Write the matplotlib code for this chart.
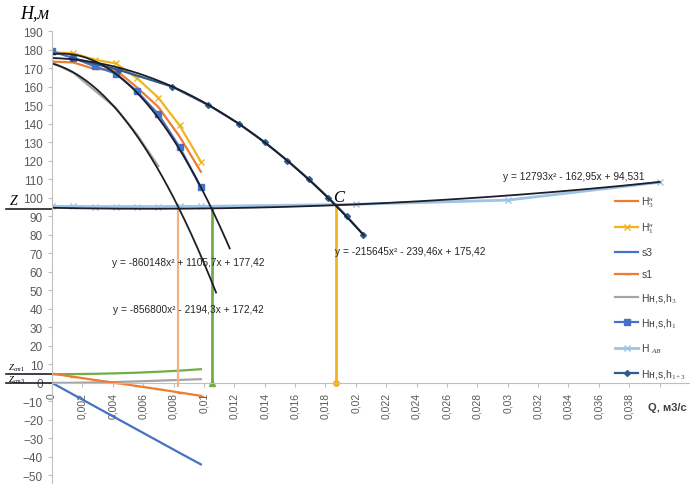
import numpy as np
import matplotlib
matplotlib.use("Agg")
import matplotlib.pyplot as plt

plt.rcParams['font.family'] = ['Liberation Sans', 'DejaVu Sans']
plt.rcParams['mathtext.fontset'] = 'custom'
plt.rcParams['mathtext.rm'] = 'Liberation Serif'
plt.rcParams['mathtext.it'] = 'Liberation Serif:italic'
plt.rcParams['mathtext.bf'] = 'Liberation Serif:bold'

# --- data ---
q_pump = [0, 0.0014, 0.0028, 0.0042, 0.0056, 0.007, 0.0084, 0.0098]
h3_pump = [173.5, 173, 169.5, 169, 159.5, 149, 133, 114]
h1_pump = [178.5, 178, 174.5, 172.5, 164.5, 154, 139, 119.5]
s3 = [0, -6.3, -12.6, -18.9, -25.2, -31.5, -37.8, -44]
s1 = [5, 3.3, 1.6, 0, -1.7, -3.4, -5.2, -7]
h_nsh3 = [173, 167.5, 158, 148.5, 134, 117]
h_nsh1 = [179, 175.4, 171, 167, 157.4, 145, 127.3, 105.5]
loss_1 = [4.7, 4.75, 4.9, 5.15, 5.5, 6.0, 6.6, 7.4]
loss_3 = [0, 0.05, 0.2, 0.45, 0.8, 1.2, 1.6, 2.0]

q_ab = [0, 0.0014, 0.0028, 0.0042, 0.0056, 0.007, 0.0084, 0.0098, 0.02, 0.03, 0.04]
h_ab = [95.3, 95.3, 95.2, 95.2, 95.2, 95.2, 95.3, 95.3, 96.4, 98.7, 108.3]

q_13 = [0.0013, 0.0044, 0.0079, 0.0103, 0.0123, 0.014, 0.0155, 0.0169, 0.0182, 0.0194, 0.0205]
h_13 = [175.5, 169, 160, 150, 140, 130, 120, 110, 100, 90, 80]

# operating points (vertical drop lines)
q_work = [0.0083, 0.0105, 0.0187]
h_work = [94.2, 94.9, 95.9]

# trendlines as shown on the chart
tr_nsh3 = [-856800, -2194.3, 172.42]
tr_nsh1 = [-860148, 1105.7, 177.42]
tr_13 = [-215645, -239.46, 175.42]
tr_ab = [12793, -162.95, 94.531]
tr_ends = [0.0108, 0.0117, 0.0205, 0.04]

z_levels = [94.0, 4.7, 0.0]
z_labels = ['Z', r'$Z_{ст1}$', r'$Z_{ст3}$']

c_orange = '#ED7D31'
c_yellow = '#F2B41E'
c_blue = '#4472C4'
c_gray = '#A5A5A5'
c_light = '#9DC3E6'
c_dark = '#2E5C8F'
c_green = '#70AD47'
c_pink = '#F4B183'
c_trend = '#1E1E28'

fig = plt.figure(figsize=(6.9, 4.85), dpi=100)
ax = fig.add_axes([52 / 690, 0, 1 - 52 / 690, 1 - 32 / 485])
ax.set_xlim(0, 0.042)
ax.set_ylim(-54.6, 190)

# lower plot: losses
ax.plot(q_pump, loss_1, color=c_green, lw=1.6)
ax.plot(q_pump, loss_3, color=c_gray, lw=1.6)
l_s1, = ax.plot(q_pump, s1, color=c_orange, lw=1.6, marker='_', ms=4)
l_s3, = ax.plot(q_pump, s3, color=c_blue, lw=1.6)

# vertical drop lines
ax.plot([q_work[0]] * 2, [-1.5, h_work[0]], color=c_pink, lw=1.6)
ax.plot([q_work[1]] * 2, [0, h_work[1]], color=c_green, lw=2)
ax.plot([q_work[1]], [0], marker='^', color=c_green, ms=5)
ax.plot([q_work[2]] * 2, [0, h_work[2]], color=c_yellow, lw=2)
ax.plot([q_work[2]], [0], marker='o', color=c_yellow, ms=4)

# pump curves
l_h3, = ax.plot(q_pump, h3_pump, color=c_orange, lw=1.6)
l_h1, = ax.plot(q_pump, h1_pump, color=c_yellow, lw=1.6, marker='x', ms=5)
l_n3, = ax.plot(q_pump[:len(h_nsh3)], h_nsh3, color=c_gray, lw=1.6)
l_n1, = ax.plot(q_pump, h_nsh1, color=c_blue, lw=1.6, marker='s', ms=4)
l_ab, = ax.plot(q_ab, h_ab, color=c_light, lw=2, marker='x', ms=5)
l_13, = ax.plot(q_13, h_13, color=c_dark, lw=1.6, marker='D', ms=3)

# trendlines
for coef, x_end in zip([tr_nsh3, tr_nsh1, tr_13, tr_ab], tr_ends):
    xx = np.linspace(0, x_end, 200)
    ax.plot(xx, np.polyval(coef, xx), color=c_trend, lw=1.3)

# Z level marks left of the axis
for lev in z_levels:
    ax.plot([-0.003, 0], [lev, lev], color=c_trend, lw=1.2, clip_on=False)
ax.text(-0.0028, 95.0, z_labels[0], fontsize=10, family='Liberation Serif',
        style='italic', ha='left', va='bottom')
ax.text(-0.0029, 5.2, z_labels[1], fontsize=6.5, ha='left', va='bottom')
ax.text(-0.0029, -1.2, z_labels[2], fontsize=6.5, ha='left', va='bottom')

# equations
eq_kw = dict(fontsize=7.3, color='#262626')
ax.text(0.00895, 65.3, 'y = -860148x² + 1105,7x + 177,42', ha='center', va='center', **eq_kw)
ax.text(0.00895, 40.0, 'y = -856800x² - 2194,3x + 172,42', ha='center', va='center', **eq_kw)
ax.text(0.0186, 71.2, 'y = -215645x² - 239,46x + 175,42', ha='left', va='center', **eq_kw)
ax.text(0.0297, 111.6, 'y = 12793x² - 162,95x + 94,531', ha='left', va='center', **eq_kw)
ax.text(0.0189, 100.5, 'C', fontsize=12, family='Liberation Serif', style='italic',
        ha='center', va='center')

# axes styling
for s in ['top', 'right']:
    ax.spines[s].set_visible(False)
ax.spines['bottom'].set_position(('data', 0))
ax.spines['left'].set_color('#BFBFBF')
ax.spines['bottom'].set_color('#BFBFBF')
ax.set_yticks(np.arange(-50, 191, 10))
ax.tick_params(axis='y', labelsize=8.5, colors='#595959', length=3, color='#BFBFBF')
x_ticks = np.arange(0, 0.0401, 0.002)
ax.set_xticks(x_ticks)
ax.set_xticklabels([('%g' % round(v, 3)).replace('.', ',') if v < 0.039 else '' for v in x_ticks],
                   rotation=90)
ax.tick_params(axis='x', labelsize=7.5, colors='#595959', length=3, color='#BFBFBF')

fig.text(20 / 690, 1 - 14 / 485, 'Н,м', fontsize=13, family='Liberation Serif',
         style='italic', va='center', ha='left')
fig.text(648 / 690, 1 - 408 / 485, 'Q, м3/с', fontsize=8, fontweight='bold',
         color='#404040', va='center', ha='left')

handles = [l_h3, l_h1, l_s3, l_s1, l_n3, l_n1, l_ab, l_13]
labels = [r'H$_{\mathit{3}}^{\mathit{н}}$', r'H$_{\mathit{1}}^{\mathit{н}}$', 's3', 's1',
          r'Hн,s,h$_{\mathit{3}}$', r'Hн,s,h$_{\mathit{1}}$', r'H $_{\mathit{AB}}$',
          r'Hн,s,h$_{\mathit{1+3}}$']
fig.legend(handles, labels, loc='upper left', bbox_to_anchor=(606 / 690, 1 - 186 / 485),
           frameon=False, fontsize=7.5, handlelength=2.2, handletextpad=0.3,
           labelspacing=1.15, labelcolor='#404040')

fig.savefig('out.png', dpi=100)
